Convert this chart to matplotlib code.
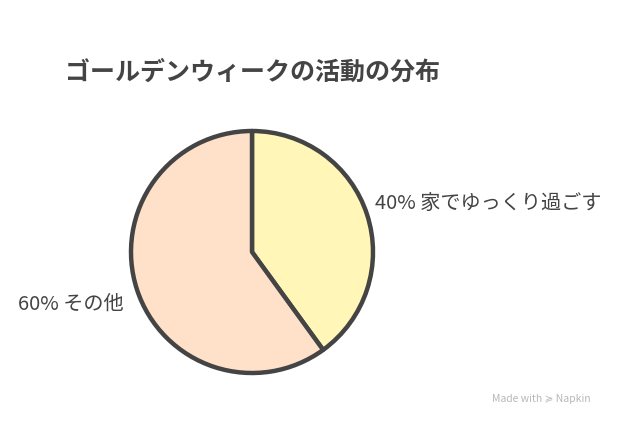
import matplotlib
matplotlib.use('Agg')
import matplotlib.pyplot as plt

plt.rcParams['font.family'] = ['Noto Sans CJK JP', 'DejaVu Sans']

# data
labels = ['家でゆっくり過ごす', 'その他']
shares = [40, 60]
colors = ['#FFF6B8', '#FFE1CA']

W, H = 624, 428
fig = plt.figure(figsize=(W / 100, H / 100), dpi=100)

# pie centred at (252, 252) px, radius ~121 px
cx, cy, r = 252, 252, 121
ax = fig.add_axes([(cx - r) / W, (H - cy - r) / H, 2 * r / W, 2 * r / H])
ax.pie(shares, colors=colors, startangle=90, counterclock=False, radius=1,
       wedgeprops=dict(edgecolor='#444444', linewidth=3.2, joinstyle='round'))
ax.set_xlim(-1, 1)
ax.set_ylim(-1, 1)
ax.set_aspect('equal')
ax.axis('off')

fig.text(65 / W, 1 - 73 / H, 'ゴールデンウィークの活動の分布', fontsize=18,
         fontweight='bold', color='#444444', va='center', ha='left')

fig.text(375 / W, 1 - 203 / H, f'{shares[0]}% {labels[0]}', fontsize=14.5,
         color='#444444', va='center', ha='left')
fig.text(18 / W, 1 - 304 / H, f'{shares[1]}% {labels[1]}', fontsize=14.5,
         color='#444444', va='center', ha='left')

fig.text(492 / W, 1 - 399 / H, 'Made with ≽ Napkin', fontsize=7.5,
         color='#B8B8B8', va='center', ha='left')

fig.savefig('out.png', dpi=100, facecolor='white')
